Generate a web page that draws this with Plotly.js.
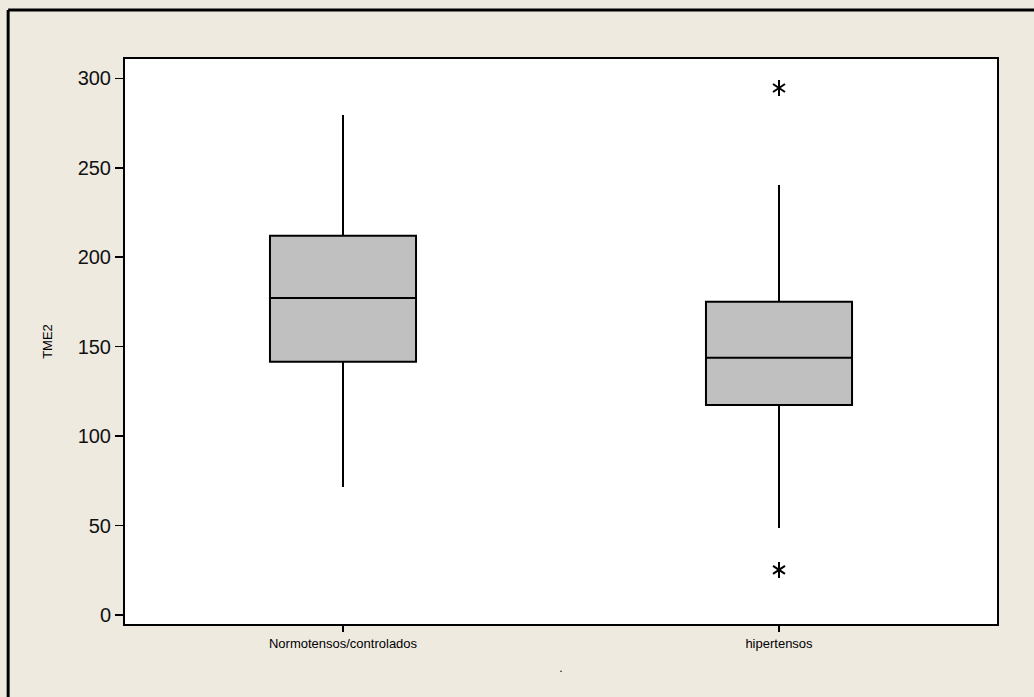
<!DOCTYPE html>
<html>
<head>
<meta charset="utf-8">
<script src="https://cdn.plot.ly/plotly-3.0.1.min.js"></script>
<style>
html,body{margin:0;padding:0;background:#EEEAE0;overflow:hidden;}
#chart{width:1034px;height:697px;}
</style>
</head>
<body>
<div id="chart"></div>
<script>
// Data
const categories = ["Normotensos/controlados", "hipertensos"];
const catPositions = [0, 1];
const lowerWhisker = [71.5, 48.6];
const q1Values = [141.6, 117.4];
const medianValues = [177.2, 143.8];
const q3Values = [212.0, 175.1];
const upperWhisker = [279.5, 240.4];
const outlierCategory = [1, 1];
const outlierValues = [294.6, 25.2];
const yTickVals = [0, 50, 100, 150, 200, 250, 300];

const traces = [];
for (let i = 0; i < categories.length; i++) {
  traces.push({
    type: 'box',
    x: [catPositions[i]],
    q1: [q1Values[i]],
    median: [medianValues[i]],
    q3: [q3Values[i]],
    lowerfence: [lowerWhisker[i]],
    upperfence: [upperWhisker[i]],
    width: 0.335,
    whiskerwidth: 0,
    fillcolor: '#C0C0C0',
    line: {color: '#000000', width: 2},
    boxpoints: false,
    hoverinfo: 'skip',
    showlegend: false
  });
}
['y-up-open', 'y-down-open'].forEach(function (sym) {
  traces.push({
    type: 'scatter',
    mode: 'markers',
    x: outlierCategory,
    y: outlierValues,
    marker: {symbol: sym, size: 10, color: '#000000', line: {color: '#000000', width: 2}},
    showlegend: false,
    hoverinfo: 'skip'
  });
});

const layout = {
  width: 1034,
  height: 697,
  paper_bgcolor: '#EEEAE0',
  plot_bgcolor: '#FFFFFF',
  margin: {l: 125, r: 37, t: 59, b: 73},
  showlegend: false,
  font: {family: '"Liberation Sans", Arial, sans-serif', color: '#000000'},
  xaxis: {
    range: [-0.5, 1.5],
    tickmode: 'array',
    tickvals: catPositions,
    ticktext: categories,
    ticks: 'outside',
    ticklen: 6,
    tickwidth: 1.5,
    tickcolor: '#000000',
    tickfont: {size: 13, family: '"Liberation Sans", Arial, sans-serif'},
    showline: true,
    mirror: true,
    linecolor: '#000000',
    linewidth: 2,
    showgrid: false,
    zeroline: false,
    title: {text: '.', font: {size: 12}, standoff: 14}
  },
  yaxis: {
    range: [-5.03, 310.8],
    tickmode: 'array',
    tickvals: yTickVals,
    ticks: 'outside',
    ticklen: 8,
    tickwidth: 1.5,
    tickcolor: '#000000',
    tickfont: {size: 20, family: '"Liberation Sans", Arial, sans-serif', color: '#111111'},
    showline: true,
    mirror: true,
    linecolor: '#000000',
    linewidth: 2,
    showgrid: false,
    zeroline: false,
    title: {text: 'TME2', font: {size: 13}, standoff: 22}
  },
  shapes: [
    {type: 'line', xref: 'paper', yref: 'paper', x0: -0.134, x1: -0.134, y0: -0.2, y1: 1.0867,
     line: {color: '#000000', width: 3}},
    {type: 'line', xref: 'paper', yref: 'paper', x0: -0.134, x1: 1.06, y0: 1.0867, y1: 1.0867,
     line: {color: '#000000', width: 3}}
  ]
};

Plotly.newPlot('chart', traces, layout, {displayModeBar: false, staticPlot: true});
</script>
</body>
</html>
